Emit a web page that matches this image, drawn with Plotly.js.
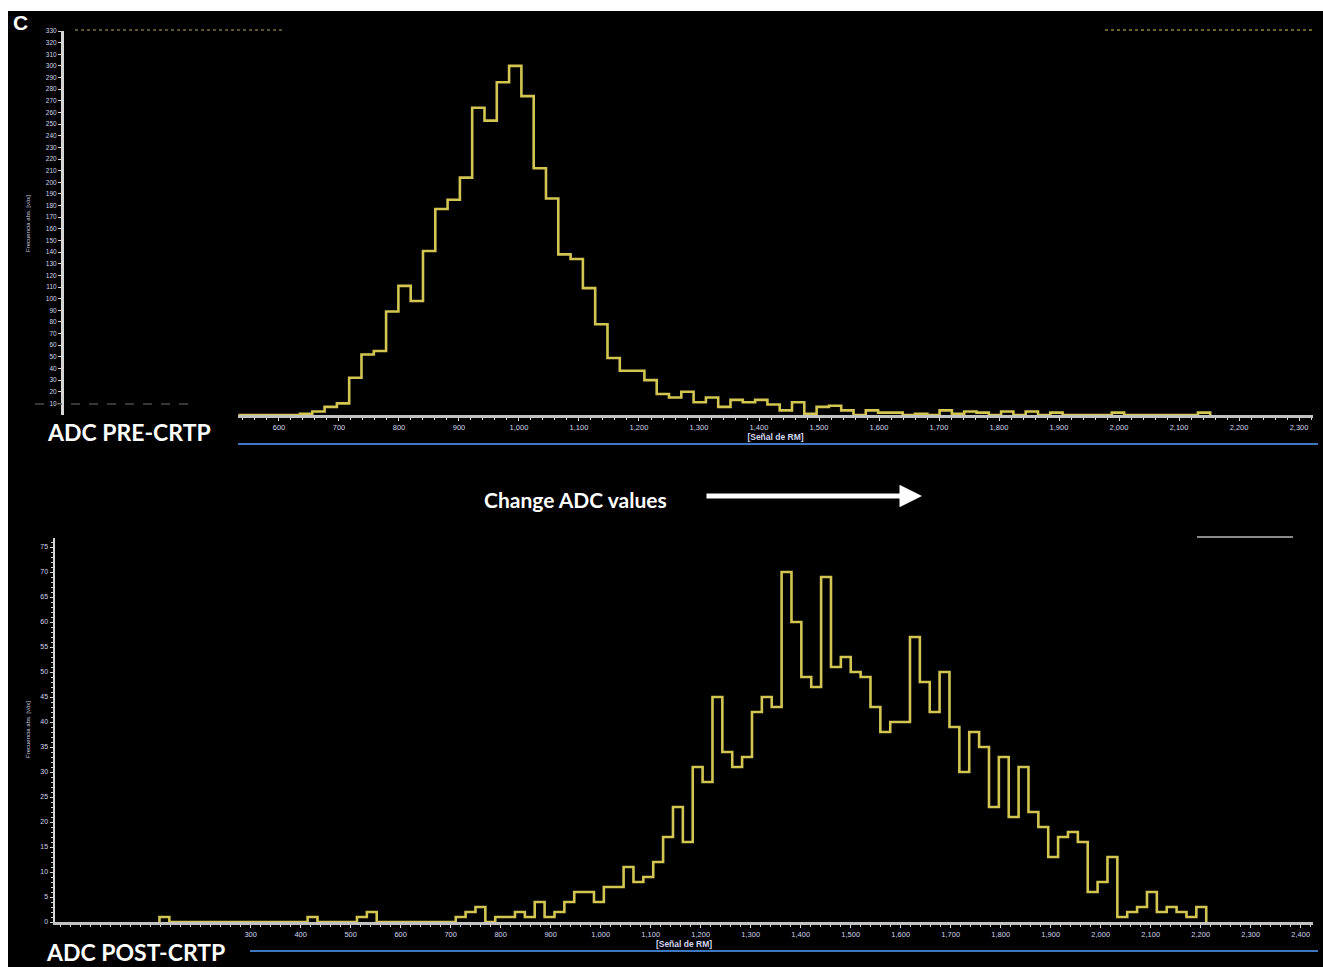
<!DOCTYPE html>
<html>
<head>
<meta charset="utf-8">
<script src="https://cdn.plot.ly/plotly-3.0.1.min.js"></script>
<style>html,body{margin:0;padding:0;background:#fff;}#chart{width:1323px;height:967px;}</style>
</head>
<body>
<div id="chart"></div>
<script>
// ---------- DATA ----------
// PRE-CRTP histogram (bin start, bin width, counts)
const preStart = 532.5;
const preBinWidth = 20.5;
const preCounts = [0,0,0,0,0,
  1,3,7,10,32,52,55,89,111,98,141,177,185,204,264,253,286,300,274,212,
  186,138,134,109,78,49,38,38,30,18,15,20,11,15,7,13,11,13,9,4,
  11,1,7,8,4,0,4,2,2,0,1,0,4,1,3,2,0,3,0,3,0,2,0,0,0,0,2,0,0,0,0,0,0,2];

// POST-CRTP histogram
const postStart = 117.55;
const postBinWidth = 19.75;
const postCounts = [1,0,0,0,0,0,0,0,0,0,0,0,0,0,0,1,0,0,0,0,1,2,0,0,0,0,0,0,0,0,
  1,2,3,0,1,1,2,1,4,1,2,4,6,6,4,7,7,11,8,
  9,12,17,23,16,31,28,45,34,31,33,42,45,43,70,60,49,47,69,51,53,50,49,43,38,
  40,40,57,48,42,50,39,30,38,35,23,33,21,31,22,19,13,17,18,16,6,8,13,1,2,3,6,2,3,2,1,3];

// tick labels
const preXTicks = [600,700,800,900,1000,1100,1200,1300,1400,1500,1600,1700,1800,1900,2000,2100,2200,2300];
const postXTicks = [300,400,500,600,700,800,900,1000,1100,1200,1300,1400,1500,1600,1700,1800,1900,2000,2100,2200,2300,2400];
const preYTicks = [10,20,30,40,50,60,70,80,90,100,110,120,130,140,150,160,170,180,190,200,210,220,230,240,250,260,270,280,290,300,310,320,330];
const postYTicks = [0,5,10,15,20,25,30,35,40,45,50,55,60,65,70,75];

const xTitle = '[Señal de RM]';
const yTitle = 'Frecuencia abs. [vóx]';
const preLabel = 'ADC PRE-CRTP';
const postLabel = 'ADC POST-CRTP';
const changeLabel = 'Change ADC values';

// ---------- BUILD ----------
function stepXY(start, w, counts) {
  const x = [start], y = [0];
  counts.forEach((c, i) => {
    x.push(start + i * w); y.push(c);
    x.push(start + (i + 1) * w); y.push(c);
  });
  x.push(start + counts.length * w); y.push(0);
  return {x, y};
}

const W = 1323, H = 967;
const px = v => v / W;
const py = v => 1 - v / H;

const lineColor = '#d2c552';
const pre = stepXY(preStart, preBinWidth, preCounts);
const post = stepXY(postStart, postBinWidth, postCounts);

const traces = [
  {x: pre.x, y: pre.y, xaxis: 'x', yaxis: 'y', mode: 'lines', line: {color: lineColor, width: 2.6}, hoverinfo: 'x+y'},
  {x: post.x, y: post.y, xaxis: 'x2', yaxis: 'y2', mode: 'lines', line: {color: lineColor, width: 2.6}, hoverinfo: 'x+y'}
];

const tickFont = {family: 'Liberation Sans, Arial', size: 7.5, color: '#d2d6ee'};
const titleFont = {family: 'Liberation Sans, Arial', size: 8.5, color: '#d4d7f2'};

const layout = {
  width: W, height: H,
  margin: {l: 0, r: 0, t: 0, b: 0},
  paper_bgcolor: '#ffffff',
  plot_bgcolor: 'rgba(0,0,0,0)',
  showlegend: false,
  xaxis: {
    domain: [px(238), px(1313)], range: [531.7, 2323.3], anchor: 'y',
    showgrid: false, zeroline: false, showline: true, linecolor: '#c2c2c2', linewidth: 3,
    ticks: 'outside', ticklen: 3, tickwidth: 1, tickcolor: '#dcdcdc',
    tickvals: preXTicks, tickformat: ',d', tickfont: tickFont,
    minor: {dtick: 20, tick0: 0, ticks: 'outside', ticklen: 2, tickcolor: '#d8d8d8'},
    layer: 'below traces',
    title: {text: '<b>' + xTitle + '</b>', font: titleFont, standoff: 4}
  },
  yaxis: {
    domain: [py(415), py(31)], range: [0, 330], anchor: 'free', position: px(62),
    showgrid: false, zeroline: false, showline: true, linecolor: '#d6d6d6', linewidth: 2.5,
    ticks: 'outside', ticklen: 3, tickcolor: '#d6d6d6',
    tickvals: preYTicks, tickfont: {family: 'Liberation Sans, Arial', size: 6.5, color: '#d2d6ee'},
    layer: 'below traces'
  },
  xaxis2: {
    domain: [px(55), px(1313)], range: [-91.4, 2424.6], anchor: 'y2',
    showgrid: false, zeroline: false, showline: true, linecolor: '#c2c2c2', linewidth: 3,
    ticks: 'outside', ticklen: 3, tickwidth: 1, tickcolor: '#dcdcdc',
    tickvals: postXTicks, tickformat: ',d', tickfont: tickFont,
    minor: {dtick: 20, tick0: 0, ticks: 'outside', ticklen: 2, tickcolor: '#d8d8d8'},
    layer: 'below traces',
    title: {text: '<b>' + xTitle + '</b>', font: titleFont, standoff: 3}
  },
  yaxis2: {
    domain: [py(922), py(538)], range: [0, 76.8], anchor: 'x2',
    showgrid: false, zeroline: false, showline: true, linecolor: '#d6d6d6', linewidth: 2.5,
    ticks: 'outside', ticklen: 3, tickcolor: '#d6d6d6',
    tickvals: postYTicks, tickfont: {family: 'Liberation Sans, Arial', size: 7, color: '#d2d6ee'},
    minor: {dtick: 1, ticks: 'outside', ticklen: 2, tickcolor: '#cfcfcf'},
    layer: 'below traces'
  },
  shapes: [
    {type: 'rect', xref: 'paper', yref: 'paper', x0: px(8), x1: 1, y0: 0, y1: py(11), fillcolor: '#000000', line: {width: 0}, layer: 'below'},
    {type: 'line', xref: 'paper', yref: 'paper', x0: px(238), x1: px(1318), y0: py(444), y1: py(444), line: {color: '#3f78bf', width: 2}},
    {type: 'line', xref: 'paper', yref: 'paper', x0: px(250), x1: px(1318), y0: py(951), y1: py(951), line: {color: '#3f78bf', width: 2}},
    {type: 'line', xref: 'paper', yref: 'paper', x0: px(1197), x1: px(1293), y0: py(537), y1: py(537), line: {color: '#8a8a8a', width: 2}},
    {type: 'line', xref: 'paper', yref: 'paper', x0: px(35), x1: px(190), y0: py(404), y1: py(404), line: {color: '#4a4a4a', width: 1.5, dash: 'dash'}},
    {type: 'line', xref: 'paper', yref: 'paper', x0: px(75), x1: px(285), y0: py(30), y1: py(30), line: {color: '#5e5530', width: 2, dash: 'dot'}},
    {type: 'line', xref: 'paper', yref: 'paper', x0: px(1105), x1: px(1315), y0: py(30), y1: py(30), line: {color: '#6a6030', width: 2, dash: 'dot'}}
  ],
  annotations: [
    {xref: 'paper', yref: 'paper', x: px(20), y: py(22), xanchor: 'center', yanchor: 'middle', text: '<b>C</b>', showarrow: false,
     font: {family: 'Liberation Sans, Arial', size: 21, color: '#ffffff'}},
    {xref: 'paper', yref: 'paper', x: px(129), y: py(432), xanchor: 'center', yanchor: 'middle', text: '<b>' + preLabel + '</b>', showarrow: false,
     font: {family: 'Lato, Open Sans', size: 23, color: '#ffffff'}},
    {xref: 'paper', yref: 'paper', x: px(135), y: py(952), xanchor: 'center', yanchor: 'middle', text: '<b>' + postLabel + '</b>', showarrow: false,
     font: {family: 'Lato, Open Sans', size: 23, color: '#ffffff'}},
    {xref: 'paper', yref: 'paper', x: px(575), y: py(499), xanchor: 'center', yanchor: 'middle', text: '<b>' + changeLabel + '</b>', showarrow: false,
     font: {family: 'Lato, Open Sans', size: 21, color: '#ffffff'}},
    {xref: 'paper', yref: 'paper', x: px(922), y: py(496), text: '', showarrow: true,
     ax: -217, ay: 0, arrowhead: 2, arrowsize: 0.9, arrowwidth: 5, arrowcolor: '#ffffff'},
    {xref: 'paper', yref: 'paper', x: px(28), y: py(224), xanchor: 'center', yanchor: 'middle', text: yTitle, textangle: -90, showarrow: false,
     font: {family: 'Liberation Sans, Arial', size: 6, color: '#cfcfe0'}},
    {xref: 'paper', yref: 'paper', x: px(28), y: py(730), xanchor: 'center', yanchor: 'middle', text: yTitle, textangle: -90, showarrow: false,
     font: {family: 'Liberation Sans, Arial', size: 6, color: '#cfcfe0'}}
  ]
};

Plotly.newPlot('chart', traces, layout, {displayModeBar: false, staticPlot: true});
</script>
</body>
</html>
